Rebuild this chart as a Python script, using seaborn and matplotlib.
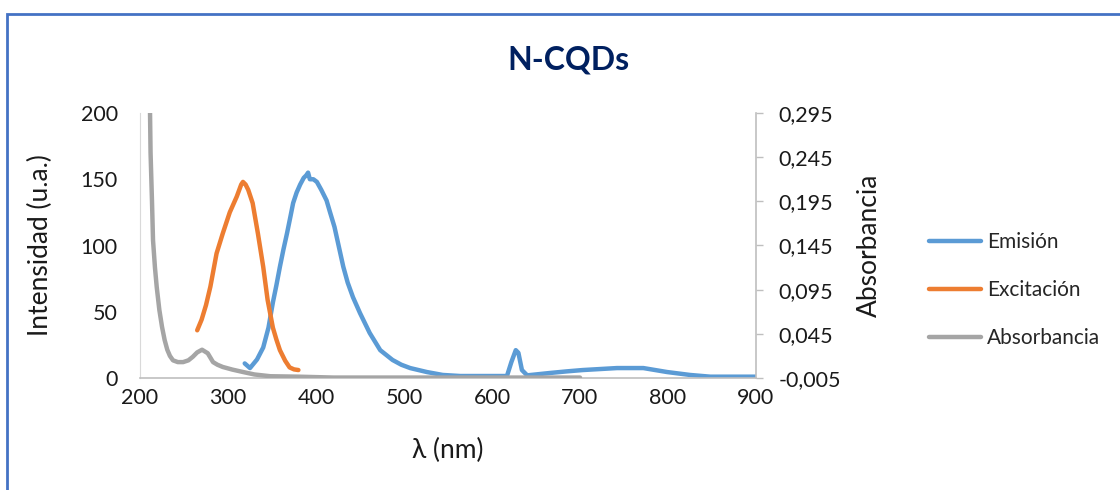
import matplotlib
matplotlib.use("Agg")
import matplotlib.pyplot as plt
import seaborn as sns
import pandas as pd
from matplotlib.patches import Rectangle

# ---- data ----
em_nm = [319, 325, 333, 340, 346, 351, 355, 359, 363, 367, 371, 374, 378, 382, 386, 389, 391,
         393, 397, 401, 406, 412, 416, 421, 426, 431, 436, 442, 450, 461, 473, 487, 497, 507,
         526, 544, 564, 590, 617, 622, 627, 630, 634, 640, 666, 685, 703, 742, 772, 799, 825,
         848, 875, 900]
em_val = [11, 7.5, 14, 23, 38, 57, 70, 84, 97, 109, 122, 132, 140, 146, 151, 153, 155,
          150, 150, 148, 142, 134, 125, 114, 99, 84, 72, 61, 49, 34, 21, 13.6, 10, 7.5,
          4.5, 2.3, 1.5, 1.5, 1.5, 12, 21, 19, 6, 2, 3.8, 5, 6, 7.5, 7.5, 4.5, 2.3,
          1, 1, 1]

ex_nm = [265, 270, 275, 280, 287, 294, 302, 310, 315, 317, 320, 323, 328, 334, 340, 345, 351,
         355, 359, 365, 370, 375, 380]
ex_val = [36, 44, 55, 69, 94, 109, 125, 137, 146, 148, 146, 142, 132, 109, 84, 59, 38,
          29, 21, 13, 8, 6.5, 6]

ab_nm = [210, 212, 213.6, 214.8, 217, 219, 222, 225, 228, 231, 234, 237.5, 243, 249, 255, 260,
         265, 270.5, 277, 283, 288, 294, 305, 317, 330, 348, 380, 420, 500, 600, 700]
ab_val = [0.40, 0.25, 0.196, 0.151, 0.120, 0.098, 0.072, 0.053, 0.038, 0.027, 0.020, 0.015,
          0.013, 0.013, 0.015, 0.019, 0.024, 0.027, 0.023, 0.013, 0.010, 0.0075, 0.0045,
          0.0018, -0.001, -0.003, -0.0035, -0.0045, -0.0045, -0.0045, -0.0045]

x_ticks = [200, 300, 400, 500, 600, 700, 800, 900]
y_left_ticks = [0, 50, 100, 150, 200]
y_right_ticks = [-0.005, 0.045, 0.095, 0.145, 0.195, 0.245, 0.295]
series_names = ["Emisión", "Excitación", "Absorbancia"]
colors = ["#5B9BD5", "#ED7D31", "#A5A5A5"]

sns.set_style("white")
plt.rcParams['font.family'] = ['Lato', 'DejaVu Sans']

fig = plt.figure(figsize=(11.2, 4.9), dpi=100)
ax = fig.add_axes([140/1120, 1-378/490, 616/1120, 265/490])
ax2 = ax.twinx()

em_df = pd.DataFrame({"nm": em_nm, "val": em_val})
ex_df = pd.DataFrame({"nm": ex_nm, "val": ex_val})
ab_df = pd.DataFrame({"nm": ab_nm, "val": ab_val})

lw = 3.2
sns.lineplot(data=em_df, x="nm", y="val", ax=ax, color=colors[0], lw=lw, label=series_names[0],
             legend=False, solid_capstyle="round", solid_joinstyle="round")
sns.lineplot(data=ex_df, x="nm", y="val", ax=ax, color=colors[1], lw=lw, label=series_names[1],
             legend=False, solid_capstyle="round", solid_joinstyle="round")
sns.lineplot(data=ab_df, x="nm", y="val", ax=ax2, color=colors[2], lw=lw, label=series_names[2],
             legend=False, solid_capstyle="round", solid_joinstyle="round")

ax.set_xlim(200, 900)
ax.set_ylim(0, 200)
ax2.set_ylim(-0.005, 0.295)
ax.set_xticks(x_ticks)
ax.set_yticks(y_left_ticks)
ax2.set_yticks(y_right_ticks)
ax2.set_yticklabels([f"{v:.3f}".replace(".", ",") for v in y_right_ticks])

fs = 15.5
ax.tick_params(axis="both", labelsize=fs, length=0, pad=7, labelcolor="#1a1a1a")
ax.tick_params(axis="y", pad=16)
ax2.tick_params(axis="y", labelsize=fs, length=5, width=1, color="#BFBFBF", direction="out",
                pad=11, labelcolor="#1a1a1a")

for a in (ax, ax2):
    for s in a.spines.values():
        s.set_visible(False)
ax.spines["left"].set_visible(True)
ax.spines["left"].set_color("#D9D9D9")
ax.spines["bottom"].set_visible(True)
ax.spines["bottom"].set_color("#BFBFBF")
ax.spines["bottom"].set_linewidth(1.2)
ax2.spines["right"].set_visible(True)
ax2.spines["right"].set_color("#BFBFBF")
ax2.spines["right"].set_linewidth(1.2)

ax.set_xlabel("λ (nm)", fontsize=19, color="#1a1a1a", labelpad=22)
ax.set_ylabel("Intensidad (u.a.)", fontsize=19, color="#1a1a1a", labelpad=20)
ax2.set_ylabel("Absorbancia", fontsize=19, color="#1a1a1a", labelpad=12)

fig.text(568/1120, 1-60/490, "N-CQDs", fontsize=23, fontweight="bold", color="#002060",
         ha="center", va="center")

handles = ax.get_lines()[:2] + ax2.get_lines()[:1]
leg = fig.legend(handles, series_names, loc="center left",
                 bbox_to_anchor=(910/1120, 1-290/490), frameon=False, fontsize=15,
                 handlelength=2.5, handletextpad=0.3, labelspacing=1.35)

# outer frame like the Excel chart area border
fig.patches.append(Rectangle((7/1120, -0.05), 1.2, 1-14/490+0.05, transform=fig.transFigure,
                             fill=False, edgecolor="#4472C4", lw=2, zorder=10))

fig.savefig("out.png", dpi=100)
